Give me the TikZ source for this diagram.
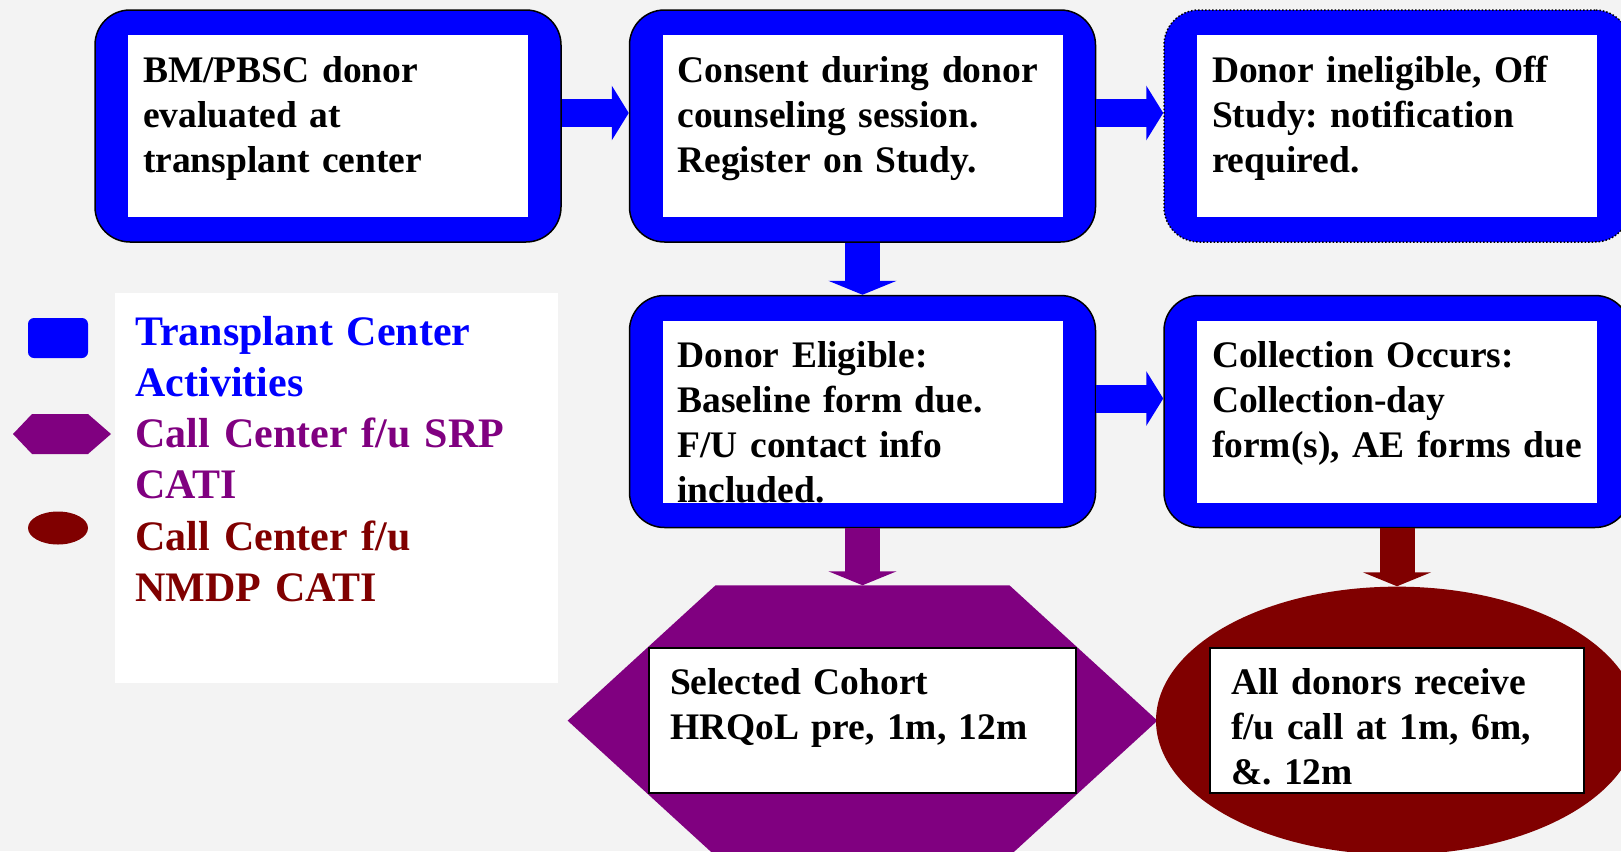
\documentclass[tikz,border=0pt]{standalone}
\usepackage{fontspec}
\setmainfont{Liberation Serif}
\usepackage{xcolor}
\usepackage{tikz}
\usetikzlibrary{arrows.meta, positioning, shapes.geometric}
\definecolor{tcblue}{RGB}{0,0,255}
\definecolor{srppurple}{RGB}{128,0,128}
\definecolor{nmdpred}{RGB}{128,0,0}
\definecolor{paper}{RGB}{243,243,243}
\frenchspacing

\begin{document}
\begin{tikzpicture}[
    x=0.5pt, y=-0.5pt,
    node distance=26pt and 33.5pt,
    boxfont/.style={font=\bfseries\fontsize{18.75pt}{22.5pt}\selectfont\frenchspacing},
    keyfont/.style={font=\bfseries\fontsize{21pt}{25.5pt}\selectfont},
    tcbox/.style={rectangle, draw=black, line width=0.75pt, rounded corners=17.5pt, fill=tcblue,
        inner xsep=24pt, inner ysep=10pt, text width=185pt, text height=26pt, text depth=70pt,
        align=left, boxfont,
        path picture={\fill[white, sharp corners] ([shift={(16.5pt,-12.5pt)}]path picture bounding box.north west)
            rectangle ([shift={(-16.5pt,12.5pt)}]path picture bounding box.south east);}},
    txtbox/.style={rectangle, draw=black, line width=1pt, fill=white, inner xsep=10.5pt, inner ysep=10pt,
        text width=#1, text height=13pt, text depth=39.5pt, align=left, boxfont},
    hexbg/.style={rectangle, inner sep=0pt, minimum width=294.5pt, minimum height=135pt},
    ovalbg/.style={ellipse, fill=nmdpred, inner sep=0pt, minimum width=241pt, minimum height=134pt},
    flow/.style={tcblue, line width=14pt, -{Triangle[width=27pt, length=8.5pt]}},
    dropflow/.style={#1, line width=17.5pt, -{Triangle[width=34pt, length=7pt]}},
    keytext/.style={text=#1, inner sep=0pt, text width=220pt, align=left, keyfont}
]
\useasboundingbox (0,0) rectangle (1621,851);
\clip (0,0) rectangle (1621,851);
\fill[paper] (0,0) rectangle (1621,851);

% legend
\node[fill=white, inner sep=0pt, minimum width=221.5pt, minimum height=195pt] (legend) at (336.5,488) {};
\node[rectangle, rounded corners=3pt, fill=tcblue, inner sep=0pt, minimum width=30pt, minimum height=20pt] (keytc) at (58,338) {};
\fill[srppurple] (13,434) -- (32,414) -- (88,414) -- (111,434) -- (88,454) -- (32,454) -- cycle;
\node[ellipse, fill=nmdpred, inner sep=0pt, minimum width=30pt, minimum height=16.5pt] (keynmdp) at (58,528) {};
\node[keytext=tcblue, anchor=base west] (keytctext) at (135,345) {Transplant Center\\Activities};
\node[keytext=srppurple, anchor=base west] (keysrptext) at (135,447) {Call Center f/u SRP\\CATI};
\node[keytext=nmdpred, anchor=base west] (keynmdptext) at (135,550) {Call Center f/u\\NMDP CATI};

% transplant center steps
\node[tcbox] (evaluate) at (328,126) {BM/PBSC donor\\evaluated at\\transplant center};
\node[tcbox, right=of evaluate] (consent) {Consent during donor\\counseling session.\\Register on Study.};
\node[tcbox, densely dotted, right=of consent] (offstudy) {Donor ineligible, Off\\Study: notification\\required.};
\node[tcbox, below=of consent] (eligible) {Donor Eligible:\\Baseline form due.\\F/U contact info\\included.};
\node[tcbox, right=of eligible] (collect) {Collection Occurs:\\Collection-day\\form(s), AE forms due};

% call center follow-up
\node[hexbg, below=28.5pt of eligible] (cohortbg) {};
\fill[srppurple] (cohortbg.west) -- ([xshift=74pt]cohortbg.north west) -- ([xshift=-74pt]cohortbg.north east)
    -- (cohortbg.east) -- ([xshift=-74pt]cohortbg.south east) -- ([xshift=74pt]cohortbg.south west) -- cycle;
\node[txtbox=192.5pt] (cohort) at (cohortbg) {Selected Cohort\\HRQoL pre, 1m, 12m};
\node[ovalbg, below=29pt of collect] (allcallsbg) {};
\node[txtbox=166pt] (allcalls) at (allcallsbg) {All donors receive\\f/u call at 1m, 6m,\\\&. 12m};

\draw[flow] ([yshift=6.5pt]evaluate.east) -- ([yshift=6.5pt]consent.west);
\draw[flow] ([yshift=6.5pt]consent.east) -- ([yshift=6.5pt]offstudy.west);
\draw[flow] ([yshift=6.5pt]eligible.east) -- ([yshift=6.5pt]collect.west);
\draw[dropflow=tcblue] (consent) -- (eligible);
\draw[dropflow=srppurple] (eligible) -- (cohortbg);
\draw[dropflow=nmdpred] (collect) -- (allcallsbg);
\end{tikzpicture}
\end{document}
